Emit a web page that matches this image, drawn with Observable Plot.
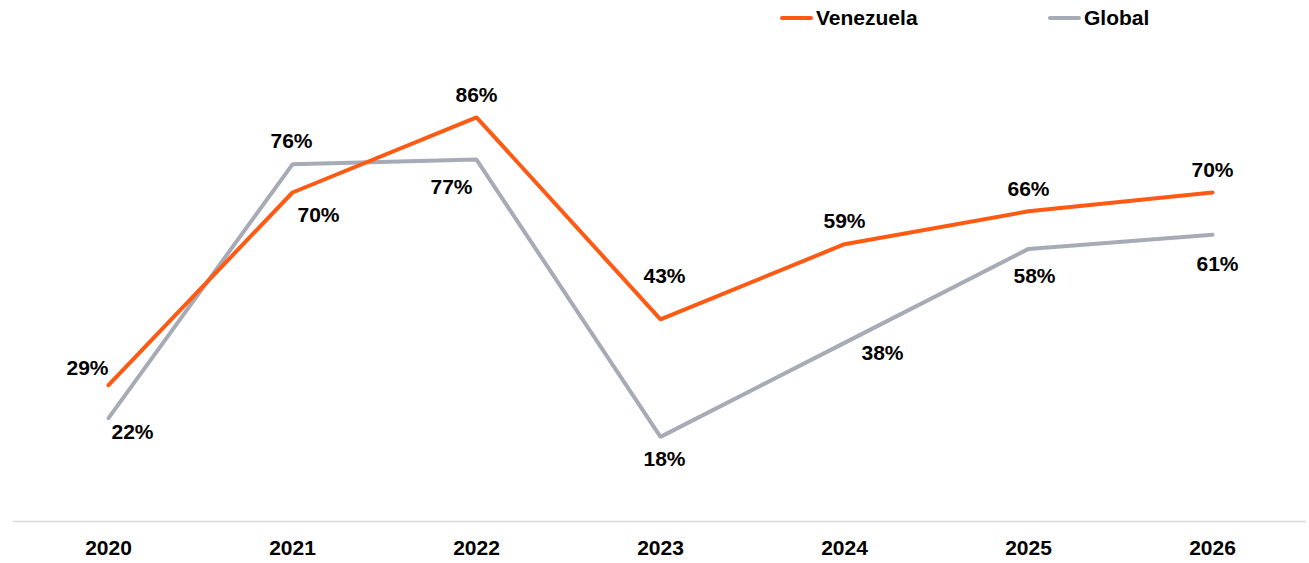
<!DOCTYPE html>
<html>
<head>
<meta charset="utf-8">
<script src="https://cdn.jsdelivr.net/npm/d3@7"></script>
<script src="https://cdn.jsdelivr.net/npm/@observablehq/plot@0.6"></script>
<style>
  html, body { margin: 0; padding: 0; background: #fff; }
  body { width: 1309px; height: 563px; overflow: hidden; font-family: "Liberation Sans", Arial, sans-serif; }
  #legend { position: relative; height: 40px; }
  .item { position: absolute; top: 6px; display: flex; align-items: center; font-weight: bold; font-size: 21px; color: #000; }
  .swatch { width: 33px; height: 4px; border-radius: 2px; margin-right: 3px; }
</style>
</head>
<body>
<div id="legend"></div>
<div id="chart"></div>
<script>
const years = ["2020", "2021", "2022", "2023", "2024", "2025", "2026"];
const venezuela = [29, 70, 86, 43, 59, 66, 70];
const global = [22, 76, 77, 18, 38, 58, 61];
const seriesNames = ["Venezuela", "Global"];
const seriesColors = ["#FF5A14", "#A7ABB5"];

// label placement (pixel nudges), kept separate from the data
const venezuelaNudge = [[-21, -17], [26, 23], [0, -22], [4, -43], [0, -23], [0, -22], [0, -22]];
const globalNudge = [[24, 14], [-1, -23], [-25, 28], [4, 22], [38, 10], [6, 27], [5, 29]];

const rows = [];
years.forEach((y, i) => {
  rows.push({year: y, series: "Venezuela", value: venezuela[i], nudge: venezuelaNudge[i]});
  rows.push({year: y, series: "Global", value: global[i], nudge: globalNudge[i]});
});

// legend
const legend = document.getElementById("legend");
const legendX = [780, 1048];
seriesNames.forEach((name, i) => {
  const it = document.createElement("div");
  it.className = "item";
  it.style.left = legendX[i] + "px";
  it.innerHTML = `<span class="swatch" style="background:${seriesColors[i]}"></span><span>${name}</span>`;
  legend.appendChild(it);
});

const labelMarks = rows.map(d => Plot.text([d], {
  x: "year", y: "value", text: d => d.value + "%",
  dx: d.nudge[0], dy: d.nudge[1],
  fill: "#000", fontWeight: "bold", fontSize: 21
}));

const chart = Plot.plot({
  width: 1309,
  height: 523,
  marginLeft: 13,
  marginRight: 3,
  marginTop: 11,
  marginBottom: 42,
  style: {fontFamily: "Liberation Sans, Arial, sans-serif", background: "#fff"},
  x: {type: "point", domain: years, padding: 0.5, label: null},
  y: {domain: [0, 100], axis: null},
  color: {domain: seriesNames, range: seriesColors},
  marks: [
    Plot.ruleY([0], {stroke: "#D9D9D9", strokeWidth: 1.5}),
    Plot.axisX({tickSize: 0, tickPadding: 19, fontSize: 21, fontWeight: "bold", fill: "#000", label: null}),
    Plot.line(rows.filter(d => d.series === "Global"), {x: "year", y: "value", stroke: seriesColors[1], strokeWidth: 4, strokeLinecap: "round", strokeLinejoin: "miter"}),
    Plot.line(rows.filter(d => d.series === "Venezuela"), {x: "year", y: "value", stroke: seriesColors[0], strokeWidth: 4, strokeLinecap: "round", strokeLinejoin: "miter"}),
    ...labelMarks
  ]
});
document.getElementById("chart").appendChild(chart);
</script>
</body>
</html>
